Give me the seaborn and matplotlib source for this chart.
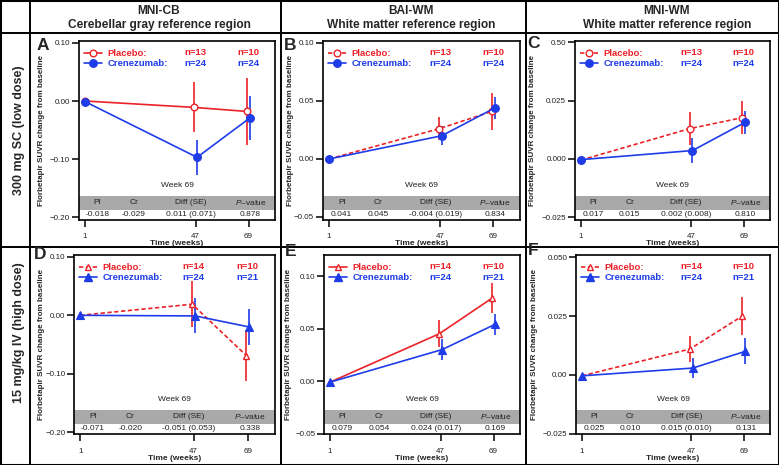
"""
Florbetapir SUVR change from baseline, crenezumab vs placebo
(3 reference regions x 2 dose groups).
"""

import numpy as np
import pandas as pd
import matplotlib
matplotlib.use("Agg")
import matplotlib.pyplot as plt
from matplotlib.lines import Line2D
from matplotlib.patches import Rectangle
from matplotlib.transforms import blended_transform_factory
import seaborn as sns

# ---- data -----------------------------------------------------------------
weeks = [1, 47, 69]

col_titles = [("MNI-CB", "Cerebellar gray reference region"),
              ("BAI-WM", "White matter reference region"),
              ("MNI-WM", "White matter reference region")]
row_titles = ["300 mg SC (low dose)", "15 mg/kg IV (high dose)"]
panel_letters = ["A", "B", "C", "D", "E", "F"]

# mean change and error-bar half width, per panel (A..F)
placebo_mean = [
    [0.000, -0.011, -0.018],
    [0.000, 0.026, 0.041],
    [-0.0005, 0.013, 0.0177],
    [0.000, 0.019, -0.069],
    [-0.001, 0.045, 0.079],
    [-0.0004, 0.011, 0.025],
]
placebo_err = [
    [0, 0.043, 0.058],
    [0, 0.010, 0.016],
    [0, 0.0072, 0.0070],
    [0, 0.039, 0.043],
    [0, 0.013, 0.014],
    [0, 0.0054, 0.0080],
]
crenezumab_mean = [
    [-0.001, -0.097, -0.029],
    [0.000, 0.020, 0.044],
    [-0.0003, 0.0036, 0.0157],
    [0.000, -0.001, -0.020],
    [-0.001, 0.030, 0.054],
    [-0.0004, 0.0029, 0.010],
]
crenezumab_err = [
    [0, 0.030, 0.038],
    [0, 0.008, 0.0095],
    [0, 0.0055, 0.0048],
    [0, 0.030, 0.030],
    [0, 0.0097, 0.0097],
    [0, 0.0042, 0.0055],
]

n_placebo = [("n=13", "n=10")] * 3 + [("n=14", "n=10")] * 3
n_crenezumab = [("n=24", "n=24")] * 3 + [("n=24", "n=21")] * 3

table_pl = ["-0.018", "0.041", "0.017", "-0.071", "0.079", "0.025"]
table_cr = ["-0.029", "0.045", "0.015", "-0.020", "0.054", "0.010"]
table_diff = ["0.011 (0.071)", "-0.004 (0.019)", "0.002 (0.008)",
              "-0.051 (0.053)", "0.024 (0.017)", "0.015 (0.010)"]
table_p = ["0.878", "0.834", "0.810", "0.338", "0.169", "0.131"]

y_ticks = [
    [0.10, 0.00, -0.10, -0.20],
    [0.10, 0.05, 0.00, -0.05],
    [0.050, 0.025, 0.000, -0.025],
    [0.10, 0.00, -0.10, -0.20],
    [0.10, 0.05, 0.00, -0.05],
    [0.050, 0.025, 0.000, -0.025],
]
y_ticklabels = [
    ["0.10", "0.00", "\u22120.10", "\u22120.20"],
    ["0.10", "0.05", "0.00", "\u22120.05"],
    ["0.50", "0.025", "0.000", "\u22120.025"],
    ["0.10", "0.00", "\u22120.10", "\u22120.20"],
    ["0.10", "0.05", "0.00", "\u22120.05"],
    ["0.050", "0.025", "0.00", "\u22120.025"],
]
y_limits = [(-0.205, 0.1034), (-0.0526, 0.1017), (-0.0262, 0.0506),
            (-0.2034, 0.1034), (-0.0503, 0.120), (-0.0251, 0.0509)]
placebo_dashed = [False, True, True, True, False, True]

# ---- style ----------------------------------------------------------------
RED = "#EC2229"
BLUE = "#1E3CE8"
GRAY = "#A9A9A9"

sns.set_theme(style="ticks")
plt.rcParams["font.family"] = ["Liberation Sans", "DejaVu Sans"]
plt.rcParams["mathtext.fontset"] = "custom"
plt.rcParams["mathtext.rm"] = "Liberation Sans"
plt.rcParams["mathtext.it"] = "Liberation Sans:italic"

W, H = 779, 465
fig = plt.figure(figsize=(W / 100, H / 100), dpi=100)
fig.patch.set_facecolor("white")

# axes boxes in pixels: (left, top, right, bottom)
boxes = [(79, 41, 275, 220), (323, 41, 520, 220), (575, 41, 770, 220),
         (74, 255, 275, 434), (324, 255, 520, 434), (576, 255, 770, 434)]
letter_pos = [(43, 45), (290, 45), (533, 43), (40, 254), (291, 251), (533, 250)]
ylabel_x = [42, 290, 533, 42, 289, 534]

DODGE = 0.6


def px_axes(box):
    l, t, r, b = box
    return fig.add_axes([l / W, 1 - b / H, (r - l) / W, (b - t) / H])


def draw_panel(i):
    ax = px_axes(boxes[i])
    high_dose = i >= 3
    mk = "^" if high_dose else "o"
    pl_ls = (0, (2.6, 1.5)) if placebo_dashed[i] else "-"

    x = np.array(weeks, dtype=float)
    shift = np.where(x > 1, DODGE, 0.0)
    df = pd.DataFrame({
        "week": np.concatenate([x - shift, x + shift]),
        "value": placebo_mean[i] + crenezumab_mean[i],
        "err": placebo_err[i] + crenezumab_err[i],
        "group": ["Placebo"] * 3 + ["Crenezumab"] * 3,
    })
    pl = df[df.group == "Placebo"]
    cr = df[df.group == "Crenezumab"]

    ax.errorbar(pl.week, pl.value, yerr=pl.err, fmt="none", ecolor=RED,
                elinewidth=1.2, capsize=0, zorder=2)
    ax.errorbar(cr.week, cr.value, yerr=cr.err, fmt="none", ecolor=BLUE,
                elinewidth=1.2, capsize=0, zorder=2)
    sns.lineplot(data=pl, x="week", y="value", ax=ax, color=RED, lw=1.2,
                 linestyle=pl_ls, marker=mk, markersize=4.8,
                 markerfacecolor="white", markeredgecolor=RED,
                 markeredgewidth=1.0, errorbar=None, zorder=3)
    sns.lineplot(data=cr, x="week", y="value", ax=ax, color=BLUE, lw=1.2,
                 marker=mk, markersize=5.6, markerfacecolor=BLUE,
                 markeredgecolor=BLUE, markeredgewidth=0.8,
                 errorbar=None, zorder=4)

    ax.set_xlim(-1.5, 80.0)
    ax.set_ylim(*y_limits[i])
    ax.set_xticks(weeks)
    ax.set_xticklabels([str(w) for w in weeks])
    ax.set_yticks(y_ticks[i])
    ax.set_yticklabels(y_ticklabels[i])
    ax.tick_params(axis="both", direction="out", length=4.8, width=1.1,
                   color="black", labelsize=5.8, labelcolor="#222222")
    ax.tick_params(axis="y", pad=1.5)
    ax.tick_params(axis="x", pad=5.0 if high_dose else 4.5)
    ax.set_xlabel("Time (weeks)", fontsize=6, fontweight="bold", labelpad=0.3)
    ax.set_ylabel("")
    for sp in ax.spines.values():
        sp.set_linewidth(1.2)
        sp.set_color("black")
        sp.set_visible(True)

    # legend with group sizes
    handles = [
        Line2D([], [], color=RED, lw=1.2, linestyle=pl_ls, marker=mk,
               markersize=4.8, markerfacecolor="white", markeredgecolor=RED),
        Line2D([], [], color=BLUE, lw=1.2, marker=mk, markersize=5.4,
               markerfacecolor=BLUE, markeredgecolor=BLUE),
    ]
    leg = ax.legend(handles, ["Placebo:", "Crenezumab:"], loc="upper left",
                    bbox_to_anchor=(0.0, 0.983), frameon=False,
                    handlelength=1.9, handletextpad=0.6, labelspacing=0.1,
                    borderaxespad=0.35, borderpad=0.2,
                    prop={"weight": "bold", "size": 6.8})
    for t, c in zip(leg.get_texts(), [RED, BLUE]):
        t.set_color(c)
    tr = blended_transform_factory(ax.transData, ax.transAxes)
    for wk, npl, ncr in zip(weeks[1:], n_placebo[i], n_crenezumab[i]):
        ax.text(wk, 0.935, npl, transform=tr, ha="center", va="center",
                color=RED, fontsize=6.8, fontweight="bold")
        ax.text(wk, 0.873, ncr, transform=tr, ha="center", va="center",
                color=BLUE, fontsize=6.8, fontweight="bold")

    # week 69 table
    ax.add_patch(Rectangle((0, 0.058), 1, 0.074, transform=ax.transAxes,
                           facecolor=GRAY, edgecolor="none", zorder=1))
    ax.text(0.5, 0.195, "Week 69", transform=ax.transAxes, ha="center",
            va="center", fontsize=6, color="#222222")
    cols = [0.095, 0.28, 0.57, 0.875]
    heads = ["Pl", "Cr", "Diff (SE)", "$P$\u2013value"]
    vals = [table_pl[i], table_cr[i], table_diff[i], table_p[i]]
    for cx, hd, v in zip(cols, heads, vals):
        ax.text(cx, 0.095, hd, transform=ax.transAxes, ha="center",
                va="center", fontsize=6, color="#222222")
        ax.text(cx, 0.028, v, transform=ax.transAxes, ha="center",
                va="center", fontsize=6, color="#222222")

    # panel letter and y label
    lx, ly = letter_pos[i]
    fig.text(lx / W, 1 - ly / H, panel_letters[i], ha="center", va="center",
             fontsize=12.5, fontweight="bold")
    l, t, r, b = boxes[i]
    fig.text(ylabel_x[i] / W, 1 - (t + b) / 2 / H,
             "Florbetapir SUVR change from baseline", rotation=90,
             ha="center", va="center", fontsize=5.8, fontweight="bold")
    return ax


for i in range(6):
    draw_panel(i)

# column and row headers
col_centers = [159, 411, 667]
for cx, (t1, t2) in zip(col_centers, col_titles):
    fig.text(cx / W, 1 - 11 / H, t1, ha="center", va="center",
             fontsize=8.6, fontweight="bold")
    fig.text(cx / W, 1 - 25 / H, t2, ha="center", va="center",
             fontsize=8.6, fontweight="bold")
for cy, txt in zip([130, 333], row_titles):
    fig.text(19.5 / W, 1 - cy / H, txt, rotation=90, ha="center", va="center",
             fontsize=9, fontweight="bold")


# table grid lines
def grid_line(x0, y0, x1, y1, lw=1.4):
    fig.add_artist(Line2D([x0 / W, x1 / W], [1 - y0 / H, 1 - y1 / H],
                          color="black", lw=lw, transform=fig.transFigure))


for gx in [30, 281, 526]:
    grid_line(gx, 0, gx, H)
for gy in [33.5, 247]:
    grid_line(0, gy, W, gy)
fig.add_artist(Rectangle((0, 0), 1, 1, transform=fig.transFigure,
                         fill=False, edgecolor="black", lw=2.2))

fig.savefig("out.png", dpi=100)
